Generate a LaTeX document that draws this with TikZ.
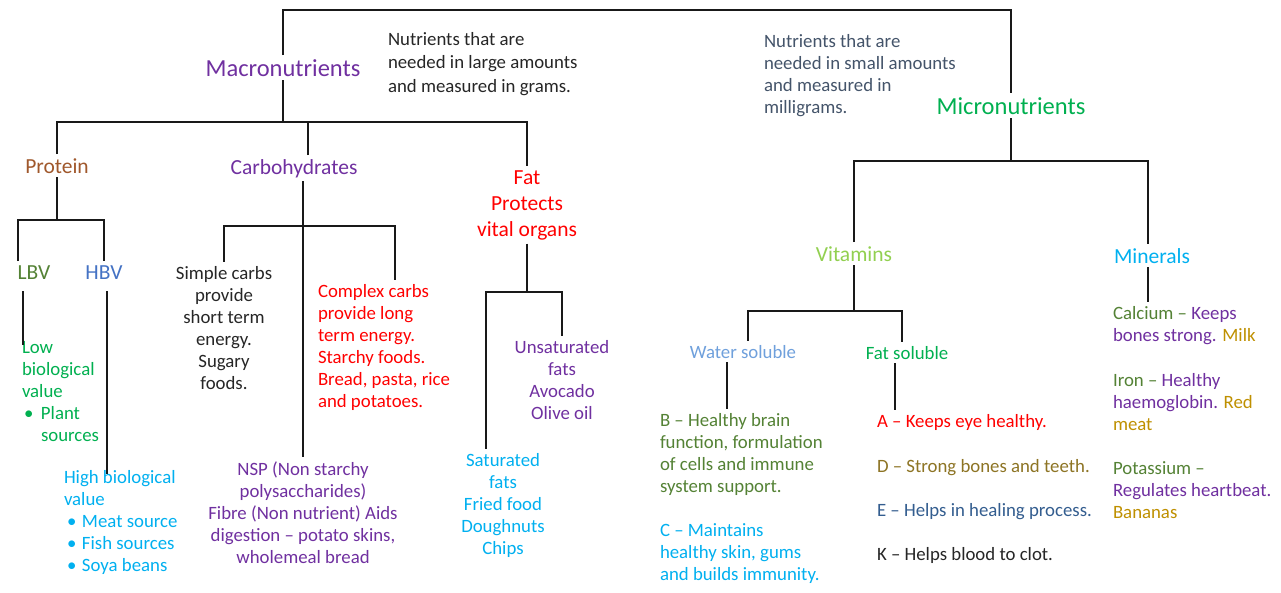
\documentclass[tikz,border=0pt]{standalone}
\usepackage{fontspec}
\setmainfont{Carlito}
\usepackage{tikz}
\usepackage{xcolor}
\definecolor{nutpurple}{HTML}{7030A0}
\definecolor{nutgreen}{HTML}{00B050}
\definecolor{nutlime}{HTML}{92D050}
\definecolor{nutsky}{HTML}{00B0F0}
\definecolor{nutred}{HTML}{FF0000}
\definecolor{nutbrown}{HTML}{A0582C}
\definecolor{nutolive}{HTML}{548235}
\definecolor{nutblue}{HTML}{4472C4}
\definecolor{nutwater}{HTML}{6FA0DC}
\definecolor{nutgold}{HTML}{BF9000}
\definecolor{nutdgold}{HTML}{8D7424}
\definecolor{nutsteel}{HTML}{335D8F}
\definecolor{nutgray}{HTML}{44546A}

\begin{document}
\begin{tikzpicture}[x=1pt,y=-1pt]
	\tikzstyle{link} = [draw=black!90, line width=2]
	\tikzstyle{txt} = [inner sep=0pt, outer sep=4pt, font=\fontsize{18.8}{22}\selectfont]
	\tikzstyle{head} = [txt, font=\fontsize{21.5}{26}\selectfont]
	\tikzstyle{title} = [txt, font=\fontsize{24.5}{29}\selectfont]
	\fill[white] (0,0) rectangle (1281,592);
	\useasboundingbox (0,0) rectangle (1281,592);

		\node[title, anchor=base, text=nutpurple] (macro) at (283,76) {Macronutrients};
		\node[title, anchor=base, text=nutgreen] (micro) at (1011,114) {Micronutrients};
		\node[txt, anchor=base west, align=left, text=black!85, font=\fontsize{18.8}{23.5}\selectfont] (large) at (384,92)
			{Nutrients that are\\needed in large amounts\\and measured in grams.};
		\node[txt, anchor=base west, align=left, text=nutgray] (small) at (760,113)
			{Nutrients that are\\needed in small amounts\\and measured in\\milligrams.};

		\node[head, anchor=base, text=nutbrown] (protein) at (57,173) {Protein};
		\node[head, anchor=base, text=nutpurple] (carbs) at (294,174) {Carbohydrates};
		\node[head, anchor=base, align=center, text=nutred] (fat) at (527,236) {Fat\\Protects\\vital organs};
		\node[head, anchor=base, text=nutolive] (lbv) at (34,279) {LBV};
		\node[head, anchor=base, text=nutblue] (hbv) at (104,279) {HBV};
		\node[head, anchor=base, text=nutlime] (vitamins) at (854,261) {Vitamins};
		\node[head, anchor=base, text=nutsky] (minerals) at (1152,263) {Minerals};

		\node[txt, anchor=base, text=nutwater] (water) at (743,358) {Water soluble};
		\node[txt, anchor=base, text=nutgreen] (fatsol) at (907,359) {Fat soluble};

		\node[txt, anchor=base west, align=left, text=nutgreen] (lowbv) at (18,441)
			{Low\\biological\\value\\\hspace*{2pt}\makebox[17pt][l]{\textbullet}Plant\\\hspace*{19pt}sources};
		\node[txt, anchor=base west, align=left, text=nutsky] (highbv) at (60,571)
			{High biological\\value\\\hspace*{3pt}\makebox[15pt][l]{\textbullet}Meat source\\\hspace*{3pt}\makebox[15pt][l]{\textbullet}Fish sources\\\hspace*{3pt}\makebox[15pt][l]{\textbullet}Soya beans};
		\node[txt, anchor=base, align=center, text=black!85] (simple) at (224,389)
			{Simple carbs\\provide\\short term\\energy.\\Sugary\\foods.};
		\node[txt, anchor=base west, align=left, text=nutred] (complex) at (314,407)
			{Complex carbs\\provide long\\term energy.\\Starchy foods.\\Bread, pasta, rice\\and potatoes.};
		\node[txt, anchor=base, align=center, text=nutpurple] (nsp) at (303,563)
			{NSP (Non starchy\\polysaccharides)\\Fibre (Non nutrient) Aids\\digestion – potato skins,\\wholemeal bread};
		\node[txt, anchor=base, align=center, text=nutpurple] (unsat) at (562,419)
			{Unsaturated\\fats\\Avocado\\Olive oil};
		\node[txt, anchor=base, align=center, text=nutsky] (sat) at (503,554)
			{Saturated\\fats\\Fried food\\Doughnuts\\Chips};

		\node[txt, anchor=base west, align=left, text=nutolive] (vitb) at (656,492)
			{B – Healthy brain\\function, formulation\\of cells and immune\\system support.};
		\node[txt, anchor=base west, align=left, text=nutsky] (vitc) at (656,580)
			{C – Maintains\\healthy skin, gums\\and builds immunity.};
		\node[txt, anchor=base west, text=nutred] (vita) at (873,427) {A – Keeps eye healthy.};
		\node[txt, anchor=base west, text=nutdgold] (vitd) at (873,472) {D – Strong bones and teeth.};
		\node[txt, anchor=base west, text=nutsteel] (vite) at (873,516) {E – Helps in healing process.};
		\node[txt, anchor=base west, text=black!85] (vitk) at (873,560) {K – Helps blood to clot.};

		\node[txt, anchor=base west, align=left, text=nutpurple] (calcium) at (1109,341)
			{\textcolor{nutolive}{Calcium –} Keeps\\bones strong. \textcolor{nutgold}{Milk}};
		\node[txt, anchor=base west, align=left, text=nutpurple] (iron) at (1109,430)
			{\textcolor{nutolive}{Iron –} Healthy\\haemoglobin. \textcolor{nutgold}{Red}\\\textcolor{nutgold}{meat}};
		\node[txt, anchor=base west, align=left, text=nutpurple] (potassium) at (1109,518)
			{\textcolor{nutolive}{Potassium –}\\Regulates heartbeat.\\\textcolor{nutgold}{Bananas}};

	\coordinate (top) at (650,10);
	\coordinate (macrobus) at (283,122);
	\coordinate (pbus) at (57,220);
	\coordinate (cbus) at (304,226);
	\coordinate (fbus) at (527,292);
	\coordinate (mbus) at (1011,161);
	\coordinate (vbus) at (854,311);

	\draw[link] (macro.north) |- (top) -| (micro.north);
	\draw[link] (macro.south) -- (macrobus);
	\draw[link] (protein.north) |- (macrobus) -| (fat.north);
	\draw[link] ([xshift=14pt]carbs.north) -- ([xshift=14pt]carbs.north |- macrobus);
	\draw[link] (protein.south) -- (pbus);
	\draw[link] ([xshift=-16pt]lbv.north) |- (pbus) -| (hbv.north);
	\draw[link] ([shift={(-11pt,-8pt)}]lbv.south) -- ([shift={(-11pt,-8pt)}]lbv.south |- lowbv.north);
	\draw[link] ([shift={(3pt,-8pt)}]hbv.south) -- ([shift={(3pt,-8pt)}]hbv.south |- highbv.north);
	\draw[link] (simple.north) |- (cbus) -| ([xshift=81pt]complex.north west);
	\draw[link] (nsp.north |- carbs.south) -- (nsp.north);
	\draw[link] (fat.south) -- (fbus);
	\draw[link] ([xshift=-17pt]sat.north) |- (fbus) -| (unsat.north);
	\draw[link] (micro.south) -- (mbus);
	\draw[link] (vitamins.north) |- (mbus) -| ([xshift=-4pt]minerals.north);
	\draw[link] (vitamins.south) -- (vbus);
	\draw[link] ([xshift=5pt]water.north) |- (vbus) -| ([xshift=-5pt]fatsol.north);
	\draw[link] ([xshift=-16pt]water.south) -- ([xshift=-16pt]water.south |- vitb.north);
	\draw[link] ([xshift=-12pt]fatsol.south) -- ([xshift=-12pt]fatsol.south |- vita.north);
	\draw[link] ([xshift=-4pt]minerals.south) -- ([xshift=-4pt]minerals.south |- calcium.north);
\end{tikzpicture}
\end{document}
